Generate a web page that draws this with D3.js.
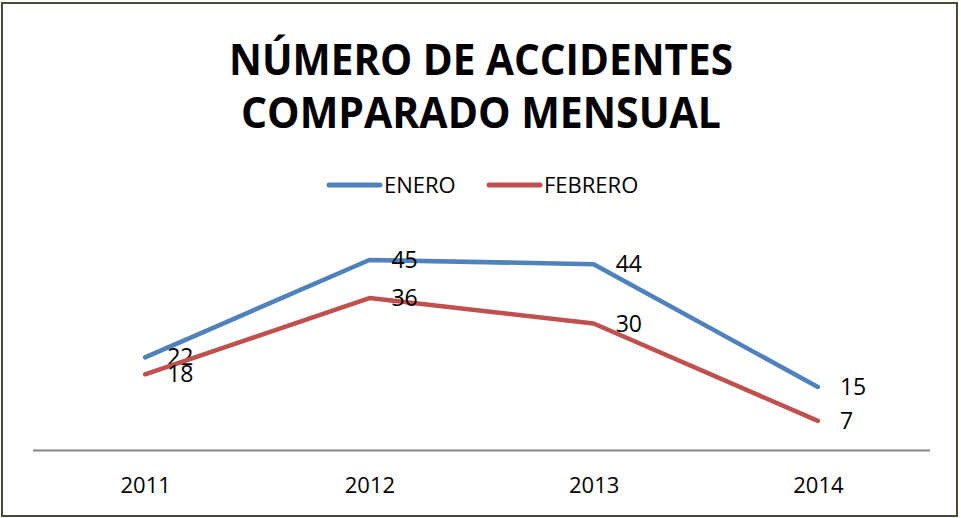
<!DOCTYPE html>
<html>
<head>
<meta charset="utf-8">
<script src="https://cdn.jsdelivr.net/npm/d3@7"></script>
<style>
    body { margin: 0; background: #fff; }
    text { font-family: "Open Sans", "Liberation Sans", sans-serif; fill: #000; }
</style>
</head>
<body>
<svg id="chart" width="961" height="518"></svg>
<script>
    var years = ["2011", "2012", "2013", "2014"],
        enero = [22, 45, 44, 15],
        febrero = [18, 36, 30, 7],
        seriesNames = ["ENERO", "FEBRERO"],
        seriesColors = ["#4f81bd", "#c0504d"],
        titleLines = ["NÚMERO DE ACCIDENTES", "COMPARADO MENSUAL"];

    var svg = d3.select("#chart");

    // outer frame
    svg.append("rect")
        .attr("x", 2).attr("y", 3)
        .attr("width", 955).attr("height", 513)
        .attr("fill", "#fff")
        .attr("stroke", "#4a4a36")
        .attr("stroke-width", 2);

    var x = d3.scalePoint().domain(years).range([33, 930]).padding(0.5),
        y = d3.scaleLinear().domain([0, 50]).range([450.5, 238.8]);

    // title
    svg.append("g").selectAll("text")
        .data(titleLines)
        .join("text")
        .attr("x", 481)
        .attr("y", function (d, i) { return 75 + i * 53; })
        .attr("text-anchor", "middle")
        .attr("font-size", 43)
        .attr("font-weight", "bold")
        .attr("textLength", function (d, i) { return i === 0 ? 504 : 480; })
        .attr("lengthAdjust", "spacingAndGlyphs")
        .text(function (d) { return d; });

    // legend
    var legendX = [327, 487];
    var legend = svg.append("g").selectAll("g")
        .data(seriesNames)
        .join("g")
        .attr("transform", function (d, i) { return "translate(" + legendX[i] + ",185)"; });
    legend.append("line")
        .attr("x1", 2).attr("x2", 53)
        .attr("stroke", function (d, i) { return seriesColors[i]; })
        .attr("stroke-width", 5)
        .attr("stroke-linecap", "round");
    legend.append("text")
        .attr("x", 57).attr("y", 8)
        .attr("font-size", 22)
        .text(function (d) { return d; });

    // category axis
    var axis = svg.append("g").attr("transform", "translate(0," + y(0) + ")")
        .call(d3.axisBottom(x).tickSize(0).tickPadding(27));
    axis.select(".domain").attr("d", "M33,0H930").attr("stroke", "#868686").attr("stroke-width", 2);
    axis.selectAll("text").attr("font-size", 22).attr("fill", "#000")
        .style("font-family", "'Open Sans', sans-serif");

    // lines and labels
    var series = [enero, febrero];
    var line = d3.line()
        .x(function (d, i) { return x(years[i]); })
        .y(function (d) { return y(d); });

    series.forEach(function (vals, s) {
        svg.append("path")
            .datum(vals)
            .attr("d", line)
            .attr("fill", "none")
            .attr("stroke", seriesColors[s])
            .attr("stroke-width", 4.5)
            .attr("stroke-linejoin", "round")
            .attr("stroke-linecap", "round");
        svg.append("g").selectAll("text")
            .data(vals)
            .join("text")
            .attr("x", function (d, i) { return x(years[i]) + 22; })
            .attr("y", function (d) { return y(d); })
            .attr("dy", "0.35em")
            .attr("font-size", 23)
            .text(function (d) { return d; });
    });
</script>
</body>
</html>
